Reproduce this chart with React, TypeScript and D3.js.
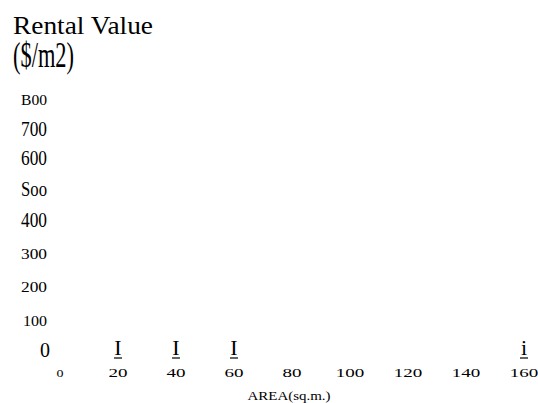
import React from "react";
import * as d3 from "d3";

const titleLines = ["Rental Value", "($/m2)"];
const yTickValues = [0, 100, 200, 300, 400, 500, 600, 700, 800];
const yTickLabels = ["0", "100", "200", "300", "400", "Soo", "600", "700", "B00"];
const xTickValues = [0, 20, 40, 60, 80, 100, 120, 140, 160];
const xTickLabels = ["0", "20", "40", "60", "80", "100", "120", "140", "160"];
const markerValues = [20, 40, 60, 160];
const markerGlyphs = ["I", "I", "I", "i"];
const xAxisTitle = "AREA(sq.m.)";

const W = 538;
const H = 403;
const FONT = "'Liberation Serif', 'Times New Roman', serif";

// visual style per y label (OCR-like mixed sizes)
const yStyle: Record<string, { size: number; len: number; dy: number; dx: number }> = {
  "0": { size: 22, len: 10, dy: 0, dx: 3 },
  "100": { size: 14, len: 24, dy: 0, dx: 0 },
  "200": { size: 14, len: 26, dy: -2, dx: 0 },
  "300": { size: 14, len: 26, dy: -4, dx: 0 },
  "400": { size: 21, len: 26, dy: -4, dx: 0 },
  "Soo": { size: 20, len: 26, dy: -4, dx: 0 },
  "600": { size: 20, len: 26, dy: -3, dx: 0 },
  "700": { size: 20, len: 26, dy: -1, dx: 0 },
  "B00": { size: 14, len: 26, dy: 0, dx: 0 },
};

export default function App() {
  const x = d3.scaleLinear().domain([0, 160]).range([60, 524]);
  const y = d3.scaleLinear().domain([0, 800]).range([357, 105]);

  return (
    <svg width={W} height={H} style={{ position: "absolute", left: 0, top: 0, background: "#fff" }} fontFamily={FONT}>
      <rect x={0} y={0} width={W} height={H} fill="#fff" />
      <text x={13} y={34} fontSize={25} fill="#000" textLength={140} lengthAdjust="spacingAndGlyphs">{titleLines[0]}</text>
      <text x={13} y={67} fontSize={35} fill="#000" textLength={61} lengthAdjust="spacingAndGlyphs">{titleLines[1]}</text>

      {yTickValues.map((v, i) => {
        const lab = yTickLabels[i];
        const s = yStyle[lab];
        return (
          <text key={"y" + i} x={47 + s.dx} y={y(v) + s.dy} fontSize={s.size} textAnchor="end"
            textLength={s.len} lengthAdjust="spacingAndGlyphs" fill="#000">{lab}</text>
        );
      })}

      {xTickValues.map((v, i) => {
        const lab = xTickLabels[i];
        const small = v === 0;
        const len = small ? 7 : lab.length * 9.5;
        return (
          <text key={"x" + i} x={x(v)} y={377} fontSize={small ? 11 : 13} textAnchor="middle"
            textLength={len} lengthAdjust="spacingAndGlyphs" fill="#000">{lab}</text>
        );
      })}

      {markerValues.map((v, i) => (
        <g key={"m" + i}>
          <text x={x(v)} y={355} fontSize={22} textAnchor="middle" fill="#000">{markerGlyphs[i]}</text>
          <line x1={x(v) - 4} x2={x(v) + 4} y1={358} y2={358} stroke="#000" strokeWidth={1.2} />
        </g>
      ))}

      <text x={289} y={400} fontSize={13} textAnchor="middle" textLength={83} lengthAdjust="spacingAndGlyphs" fill="#000">{xAxisTitle}</text>
    </svg>
  );
}
